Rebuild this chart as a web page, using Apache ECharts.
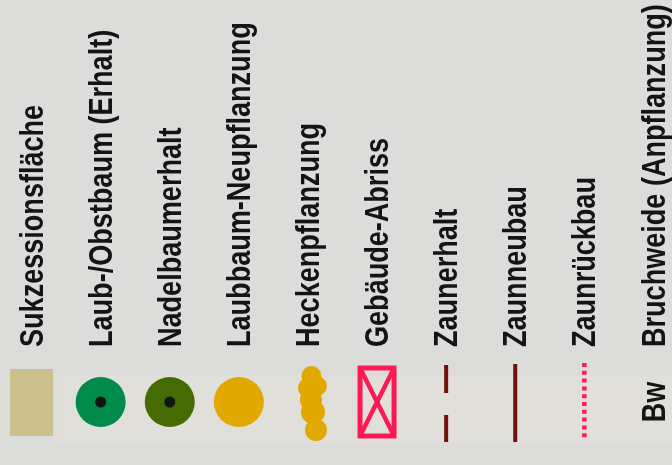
<!DOCTYPE html>
<html>
<head>
<meta charset="utf-8">
<script src="https://cdn.jsdelivr.net/npm/echarts@6/dist/echarts.min.js"></script>
<style>
html,body{margin:0;padding:0;background:#dcdcda;}
#chart{width:672px;height:465px;}
</style>
</head>
<body>
<div id="chart"></div>
<script>
// Legend entries (left to right)
const categories = [
  'Sukzessionsfläche',
  'Laub-/Obstbaum (Erhalt)',
  'Nadelbaumerhalt',
  'Laubbaum-Neupflanzung',
  'Heckenpflanzung',
  'Gebäude-Abriss',
  'Zaunerhalt',
  'Zaunneubau',
  'Zaunrückbau',
  'Bruchweide (Anpflanzung)'
];
const symbolTypes = ['area','treeKeep','conifer','treeNew','hedge','demolish','fenceKeep','fenceNew','fenceRemove','code'];
const symbolCodes = ['','','','','','','','','','Bw'];

const FONT = '"Liberation Sans",Arial,sans-serif';
const TEXT_FONT = 'bold 33px ' + FONT;
const TEXT_SCALE = 0.82;
const chart = echarts.init(document.getElementById('chart'), null, {renderer:'canvas'});

function rotatedText(text, x, y, align) {
  return {type:'text', x:x, y:y, rotation:Math.PI/2, scaleX:TEXT_SCALE,
    style:{text:text, font:TEXT_FONT, align:align, verticalAlign:'middle', fill:'#141414'}};
}

function renderItem(params, api) {
  const i = api.value(0);
  const c = api.coord([i, api.value(1)]);
  const x = c[0], y = c[1];
  const t = symbolTypes[i];
  const dark = '#141414';
  const children = [];
  // label text, starting just above the symbol strip and reading upwards
  children.push(rotatedText(categories[i], x + 2, 347, 'left'));
  switch (t) {
    case 'area':
      children.push({type:'rect', shape:{x:x-21.5, y:y-33, width:43, height:67}, style:{fill:'#cbc08c'}});
      break;
    case 'treeKeep':
    case 'conifer':
      children.push({type:'circle', shape:{cx:x, cy:y, r:25}, style:{fill: t==='treeKeep' ? '#008a4b' : '#466b02'}});
      children.push({type:'circle', shape:{cx:x, cy:y, r:5.5}, style:{fill:dark}});
      break;
    case 'treeNew':
      children.push({type:'circle', shape:{cx:x, cy:y, r:25}, style:{fill:'#e0a800'}});
      break;
    case 'hedge': {
      const pts = [[3.5,-26,10],[0,-14,10],[9,-16,10],[3,-2,11],[5,10,12],[8,28,11]];
      pts.forEach(p => children.push({type:'circle', shape:{cx:x+p[0], cy:y+p[1], r:p[2]}, style:{fill:'#e0a800'}}));
      break;
    }
    case 'demolish': {
      const x0 = x-17, x1 = x+17, y0 = y-34, y1 = y+34;
      const st = {stroke:'#fc1a55', lineWidth:4.5, fill:null};
      children.push({type:'rect', shape:{x:x0, y:y0, width:x1-x0, height:y1-y0}, style:{stroke:'#fc1a55', lineWidth:5, fill:null}});
      children.push({type:'line', shape:{x1:x0, y1:y0, x2:x1, y2:y1}, style:st});
      children.push({type:'line', shape:{x1:x1, y1:y0, x2:x0, y2:y1}, style:st});
      break;
    }
    case 'fenceKeep':
      children.push({type:'line', shape:{x1:x, y1:y-37, x2:x, y2:y+40}, style:{stroke:'#6e1108', lineWidth:4, lineDash:[28,22]}});
      break;
    case 'fenceNew':
      children.push({type:'line', shape:{x1:x, y1:y-38, x2:x, y2:y+40}, style:{stroke:'#6e1108', lineWidth:4}});
      break;
    case 'fenceRemove':
      children.push({type:'line', shape:{x1:x, y1:y-39, x2:x, y2:y+39}, style:{stroke:'#fc1a5a', lineWidth:4.5, lineDash:[4,3.8]}});
      break;
    case 'code':
      children.push(rotatedText(symbolCodes[i], x + 2, y, 'center'));
      break;
  }
  return {type:'group', children:children};
}

chart.setOption({
  backgroundColor:'#dcdcda',
  animation:false,
  graphic:[{type:'rect', z:-1, shape:{x:57, y:376, width:615, height:66}, style:{fill:'#e0dfd9'}}],
  grid:{left:-3, width:691, top:345, bottom:6, outerBoundsMode:'none', containLabel:false},
  xAxis:{
    type:'category', data:categories, show:false
  },
  yAxis:{type:'value', min:-1, max:1, show:false},
  series:[{
    type:'custom', renderItem:renderItem, silent:true, clip:false,
    data: categories.map((c, i) => [i, 0])
  }]
});
</script>
</body>
</html>
